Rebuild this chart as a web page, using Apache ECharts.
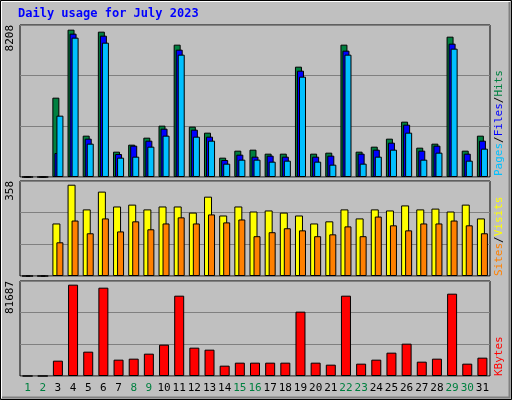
<!DOCTYPE html>
<html><head><meta charset="utf-8">
<script src="https://cdn.jsdelivr.net/npm/echarts@6/dist/echarts.min.js"></script>
<style>html,body{margin:0;padding:0;background:#c0c0c0}#c{width:512px;height:400px}</style>
</head><body><div id="c"></div>
<script>
const days = Array.from({length:31},(_, i)=>String(i+1));
const weekend = ['1','2','8','9','15','16','22','23','29','30'];
const hits  = [0,0,4284,7956,2232,7848,1368,1746,2124,2772,7146,2718,2394,1044,1422,1476,1260,1260,5958,1260,1314,7146,1368,1638,2070,2988,1584,1800,7578,1422,2232];
const files = [0,0,1296,7740,2070,7632,1242,1692,1962,2610,6876,2556,2178,918,1206,1098,1152,1098,5742,1098,1152,6822,1260,1476,1854,2826,1422,1692,7200,1260,1962];
const pages = [0,0,3312,7524,1800,7254,1044,1098,1638,2232,6606,2178,1962,720,936,936,828,882,5418,828,666,6606,720,1098,1476,2394,936,1314,6930,882,1530];
const visits= [0,0,198,344,251,318,262,269,251,262,262,239,299,228,262,243,247,239,228,198,206,251,217,251,247,266,251,254,243,269,217];
const sites = [0,0,127,209,161,217,168,206,176,198,221,198,232,202,213,150,165,180,172,150,157,187,150,224,191,172,198,198,209,191,161];
const kbytes= [0,0,13184,78530,20922,75950,14043,14903,19202,26940,69070,24361,22641,8885,11464,11464,11464,11464,55314,11464,9744,69070,10604,14043,20062,27800,12324,14903,70790,10604,15763];
const maxHits=8208, maxVisits=358, maxKB=81687;
const F='DejaVu Sans Mono';
const grids=[{top:25,height:152},{top:181,height:95},{top:281,height:95}].map(g=>({left:20,width:470,top:g.top,height:g.height,show:true,backgroundColor:'#c0c0c0',borderColor:'#000',borderWidth:1}));
function xa(i,show){return {type:'category',gridIndex:i,data:days,axisTick:{show:false},axisLine:{show:false},
 axisLabel:{show:show,fontFamily:F,fontSize:11,margin:7,interval:0,color:(v)=>weekend.includes(v)?'#008040':'#000'}};}
function ya(i,m){return {type:'value',gridIndex:i,min:0,max:m,interval:m/3,
 splitLine:{lineStyle:{color:'#808080',width:1}},axisLine:{show:false},axisTick:{show:false},
 axisLabel:{fontFamily:F,fontSize:11,color:'#000',rotate:90,margin:4,verticalAlign:'bottom',align:'right',formatter:v=>v===m?String(m):''}};}
const bs={borderColor:'#000',borderWidth:1};
const opt={animation:false,backgroundColor:'#c0c0c0',
 grid:grids,xAxis:[xa(0,false),xa(1,false),xa(2,true)],yAxis:[ya(0,maxHits),ya(1,maxVisits),ya(2,maxKB)],
 series:[
  {type:'bar',xAxisIndex:0,yAxisIndex:0,data:hits,barWidth:7,barGap:'-71%',itemStyle:{color:'#008040',...bs}},
  {type:'bar',xAxisIndex:0,yAxisIndex:0,data:files,barWidth:7,barGap:'-71%',itemStyle:{color:'#0000ff',...bs}},
  {type:'bar',xAxisIndex:0,yAxisIndex:0,data:pages,barWidth:7,barGap:'-71%',itemStyle:{color:'#00c0ff',...bs}},
  {type:'bar',xAxisIndex:1,yAxisIndex:1,data:visits,barWidth:8,barGap:'-50%',itemStyle:{color:'#ffff00',...bs}},
  {type:'bar',xAxisIndex:1,yAxisIndex:1,data:sites,barWidth:7,barGap:'-50%',itemStyle:{color:'#ff8000',...bs}},
  {type:'bar',xAxisIndex:2,yAxisIndex:2,data:kbytes,barWidth:10,itemStyle:{color:'#ff0000',...bs}}
 ],
 graphic:[
  {type:'rect',shape:{x:0.5,y:0.5,width:511,height:399},style:{fill:'none',stroke:'#000',lineWidth:1},z:-1},
  {type:'polyline',shape:{points:[[1.5,398],[1.5,1.5],[510,1.5]]},style:{stroke:'#fff',lineWidth:1,fill:'none'}},
  {type:'polyline',shape:{points:[[2,397.5],[509.5,397.5],[509.5,2]]},style:{stroke:'#808080',lineWidth:2,fill:'none'}},
  {type:'text',left:18,top:8,style:{text:'Daily usage for July 2023',fill:'#0000ff',font:'bold 12px "DejaVu Sans Mono"'}},
  {type:'text',x:494,y:176,rotation:Math.PI/2,style:{text:'{p|Pages}{s|/}{f|Files}{s|/}{h|Hits}',font:'11px "DejaVu Sans Mono"',
    rich:{p:{fill:'#00c0ff',fontFamily:F,fontSize:11},f:{fill:'#0000ff',fontFamily:F,fontSize:11},h:{fill:'#008040',fontFamily:F,fontSize:11},s:{fill:'#000',fontFamily:F,fontSize:11}}}},
  {type:'text',x:494,y:276,rotation:Math.PI/2,style:{text:'{o|Sites}{s|/}{y|Visits}',
    rich:{o:{fill:'#ff8000',fontFamily:F,fontSize:11},y:{fill:'#ffff00',fontFamily:F,fontSize:11},s:{fill:'#000',fontFamily:F,fontSize:11}}}},
  {type:'text',x:494,y:376,rotation:Math.PI/2,style:{text:'KBytes',fill:'#ff0000',font:'11px "DejaVu Sans Mono"'}}
 ]};
echarts.init(document.getElementById('c')).setOption(opt);
</script></body></html>
